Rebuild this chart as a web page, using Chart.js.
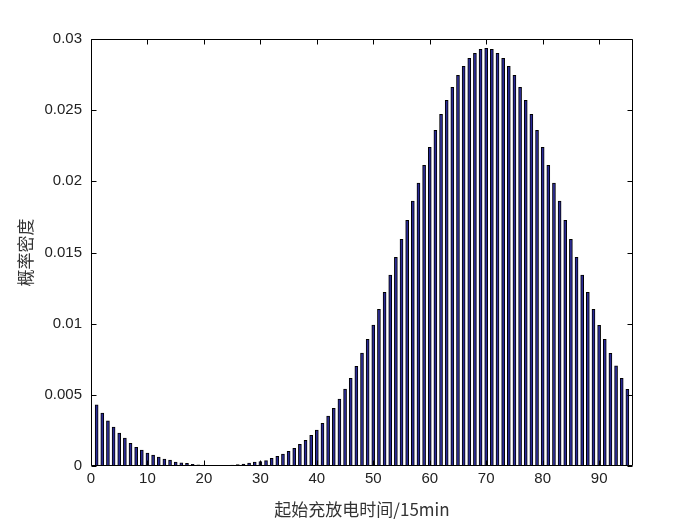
<!DOCTYPE html>
<html lang="zh">
<head>
<meta charset="UTF-8">
<title>起始充放电时间概率密度</title>
<script src="https://cdn.jsdelivr.net/npm/chart.js"></script>
<style>
  html, body { margin: 0; padding: 0; background: #fff; }
  canvas { display: block; }
</style>
</head>
<body>
<canvas id="myChart" width="700" height="525"></canvas>
<script>
// 横轴: 时段编号 (15min 一段)
const slots = [];
for (let i = 1; i <= 95; i++) slots.push(i);

// 概率密度
const density = [
  0.00429, 0.00371, 0.00317, 0.00273, 0.00231, 0.00196, 0.00160, 0.00132, 0.00111, 0.00091,
  0.00076, 0.00063, 0.00048, 0.00041, 0.00028, 0.00022, 0.00019, 0.00012, 0.00008, 0.00006,
  0.00004, 0.00003, 0.00003, 0.00004, 0.00006, 0.00010, 0.00014, 0.00021, 0.00027, 0.00031,
  0.00038, 0.00054, 0.00068, 0.00083, 0.00103, 0.00124, 0.00153, 0.00181, 0.00216, 0.00252,
  0.00300, 0.00350, 0.00405, 0.00471, 0.00541, 0.00616, 0.00701, 0.00794, 0.00890, 0.00990,
  0.01101, 0.01220, 0.01342, 0.01466, 0.01593, 0.01726, 0.01862, 0.01988, 0.02112, 0.02239,
  0.02358, 0.02471, 0.02569, 0.02660, 0.02745, 0.02808, 0.02864, 0.02900, 0.02927, 0.02935,
  0.02927, 0.02900, 0.02864, 0.02808, 0.02745, 0.02660, 0.02569, 0.02471, 0.02358, 0.02239,
  0.02112, 0.01988, 0.01862, 0.01726, 0.01593, 0.01466, 0.01342, 0.01220, 0.01101, 0.00988,
  0.00890, 0.00792, 0.00703, 0.00616, 0.00539
];

const xTicks = [0, 10, 20, 30, 40, 50, 60, 70, 80, 90];
const yTicks = [0, 0.005, 0.01, 0.015, 0.02, 0.025, 0.03];

const xLabel = '起始充放电时间/15min';
const yLabel = '概率密度';

// 外框 + 四边朝内的刻度线 (MATLAB 风格)
const boxTicks = {
  id: 'boxTicks',
  afterDatasetsDraw(chart) {
    const { ctx, chartArea: a, scales: { x, y } } = chart;
    const L = Math.round(a.left) + 0.5, R = Math.round(a.right) - 0.5;
    const T = Math.round(a.top) + 0.5, B = Math.round(a.bottom) - 0.5;
    const len = 5;
    ctx.save();
    ctx.strokeStyle = '#000';
    ctx.lineWidth = 1;
    ctx.beginPath();
    ctx.rect(L, T, R - L, B - T);
    xTicks.forEach(v => {
      const px = Math.round(x.getPixelForValue(v)) + 0.5;
      ctx.moveTo(px, B); ctx.lineTo(px, B - len);
      ctx.moveTo(px, T); ctx.lineTo(px, T + len);
    });
    yTicks.forEach(v => {
      const py = Math.round(y.getPixelForValue(v)) + 0.5;
      ctx.moveTo(L, py); ctx.lineTo(L + len, py);
      ctx.moveTo(R, py); ctx.lineTo(R - len, py);
    });
    ctx.stroke();
    ctx.restore();
  }
};

const tickFont = { family: '"Liberation Sans", Arial, sans-serif', size: 15 };
const cjkFont = { family: '"Noto Sans CJK SC", "Liberation Sans", sans-serif', size: 17 };

const ctx = document.getElementById('myChart').getContext('2d');
const myChart = new Chart(ctx, {
  type: 'bar',
  data: {
    datasets: [{
      data: slots.map((s, i) => ({ x: s, y: density[i] })),
      backgroundColor: '#2a2a96',
      borderColor: '#000',
      borderWidth: 1,
      barThickness: 3
    }]
  },
  plugins: [boxTicks],
  options: {
    responsive: false,
    animation: false,
    devicePixelRatio: 1,
    layout: { padding: { left: 0, top: 39, right: 67, bottom: 0 } },
    plugins: { legend: { display: false }, tooltip: { enabled: false } },
    scales: {
      x: {
        type: 'linear',
        min: 0,
        max: 96,
        offset: false,
        grid: { display: false, drawTicks: false },
        border: { display: false },
        afterBuildTicks(scale) { scale.ticks = xTicks.map(v => ({ value: v })); },
        afterFit(scale) { scale.height = 59; },
        ticks: {
          color: '#222',
          font: tickFont,
          padding: 4,
          maxRotation: 0,
          autoSkip: false,
          callback: v => String(v)
        },
        title: {
          display: true,
          text: xLabel,
          color: '#333',
          font: cjkFont,
          padding: { top: 0, bottom: 5 }
        }
      },
      y: {
        min: 0,
        max: 0.03,
        grid: { display: false, drawTicks: false },
        border: { display: false },
        afterBuildTicks(scale) { scale.ticks = yTicks.map(v => ({ value: v })); },
        afterFit(scale) { scale.width = 91; },
        ticks: {
          color: '#222',
          font: tickFont,
          padding: 9,
          autoSkip: false,
          callback: v => String(+v.toFixed(3))
        },
        title: {
          display: true,
          text: yLabel,
          color: '#333',
          font: cjkFont,
          padding: { top: 15, bottom: 0 }
        }
      }
    }
  }
});
</script>
</body>
</html>
